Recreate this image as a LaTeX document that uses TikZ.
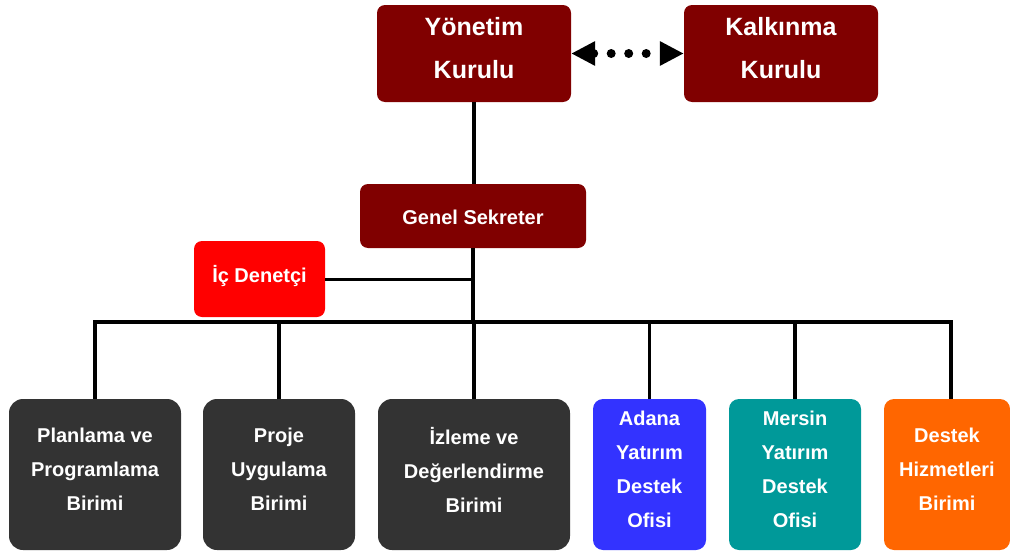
\documentclass[tikz,border=0pt]{standalone}
\usepackage{fontspec}
\setmainfont{Liberation Sans}
\usetikzlibrary{arrows.meta}
\definecolor{dred}{HTML}{800000}
\definecolor{bred}{HTML}{FF0000}
\definecolor{dgray}{HTML}{333333}
\definecolor{bblue}{HTML}{3333FF}
\definecolor{bteal}{HTML}{009999}
\definecolor{borange}{HTML}{FF6600}
\begin{document}
\begin{tikzpicture}[x=1pt,y=-1pt,
  box/.style={draw=none, rounded corners=8pt, inner sep=0pt},
  lowbox/.style={draw=none, rounded corners=14pt, inner sep=0pt, minimum height=151pt},
  colbox/.style={draw=none, rounded corners=10pt, inner sep=0pt, minimum height=151pt},
  txt/.style={text=white, font=\bfseries\fontsize{20}{34}\selectfont, align=center, inner sep=0pt},
  ttl/.style={text=white, font=\bfseries\fontsize{25}{43}\selectfont, align=center, inner sep=0pt},
  conn/.style={line width=3.5pt, black}]
\useasboundingbox (0,0) rectangle (1010,554);
% top
\node[box, fill=dred, minimum width=194pt, minimum height=97pt] (yk) at (474,53.5) {};
\node[ttl] (ykt) at (474,48.5) {Yönetim\\Kurulu};
\node[box, fill=dred, minimum width=194pt, minimum height=97pt] (kk) at (781,53.5) {};
\node[ttl] (kkt) at (781,48.5) {Kalkınma\\Kurulu};
\draw[line width=9pt, line cap=round, dash pattern=on 0pt off 17.5pt,
  {Triangle[length=24pt,width=23pt]}-{Triangle[length=24pt,width=23pt]}] (yk.east) -- (kk.west);
% middle
\node[box, fill=dred, minimum width=226pt, minimum height=64pt] (gs) at (473,216) {};
\node[txt] (gst) at (473,217) {Genel Sekreter};
\node[box, fill=bred, minimum width=131pt, minimum height=76pt] (ic) at (259.5,279) {};
\node[txt] (ict) at (259.5,276) {İç Denetçi};
% bottom
\node[lowbox, fill=dgray, minimum width=172pt] (pp) at (95,474.5) {};
\node[txt] (ppt) at (95,469.5) {Planlama ve\\Programlama\\Birimi};
\node[lowbox, fill=dgray, minimum width=152pt] (pu) at (279,474.5) {};
\node[txt] (put) at (279,469.5) {Proje\\Uygulama\\Birimi};
\node[lowbox, fill=dgray, minimum width=192pt] (iz) at (474,474.5) {};
\node[txt] (izt) at (474,469.5) {İzleme ve\\Değerlendirme\\Birimi};
\node[colbox, fill=bblue, minimum width=113pt] (ad) at (649.5,474.5) {};
\node[txt] (adt) at (649.5,469.5) {Adana\\Yatırım\\Destek\\Ofisi};
\node[colbox, fill=bteal, minimum width=132pt] (me) at (795,474.5) {};
\node[txt] (met) at (795,469.5) {Mersin\\Yatırım\\Destek\\Ofisi};
\node[colbox, fill=borange, minimum width=126pt] (dh) at (947,474.5) {};
\node[txt] (dht) at (947,469.5) {Destek\\Hizmetleri\\Birimi};
% connectors
\coordinate (bus) at (473,322);
\coordinate (dhtop) at ([xshift=4pt]dh.north);
\draw[conn] (yk.south) -- (yk.south |- gs.north);
\draw[conn] (gs.south) -- (bus);
\draw[line width=3pt] (ic.east) -- (ic.east -| gs.south);
\draw[conn, line cap=rect] (pp.north |- bus) -- (dhtop |- bus);
\draw[conn] (pp.north |- bus) -- (pp.north);
\draw[conn] (pu.north |- bus) -- (pu.north);
\draw[conn] (iz.north |- bus) -- (iz.north);
\draw[conn] (ad.north |- bus) -- (ad.north);
\draw[conn] (me.north |- bus) -- (me.north);
\draw[conn] (dhtop |- bus) -- (dhtop);
\end{tikzpicture}
\end{document}
